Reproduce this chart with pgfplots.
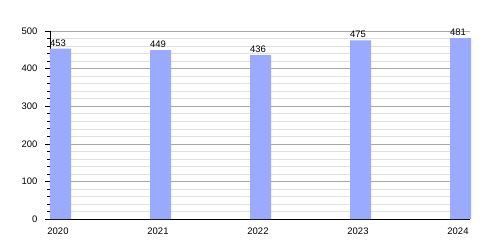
\documentclass[border=0pt]{standalone}
\usepackage{pgfplots}
\pgfplotsset{compat=1.18}
\usepackage{fontspec}
\setmainfont{Liberation Sans}
\definecolor{barblue}{HTML}{99AAFF}
\definecolor{majgrid}{HTML}{A8A8A8}
\definecolor{mingrid}{HTML}{E0E0E0}
\begin{document}
\begin{tikzpicture}
\path (0,0) rectangle (500bp,250bp);
\begin{axis}[
  at={(50bp,31bp)}, anchor=south west,
  scale only axis, width=420bp, height=188bp,
  xmin=0, xmax=4.2, ymin=0, ymax=500,
  axis x line*=bottom, axis y line*=left,
  axis line style={black, line width=0.8pt},
  xtick={0.08,1.08,2.08,3.08,4.08},
  xticklabels={2020,2021,2022,2023,2024},
  x tick style={draw=none},
  ytick={0,100,...,500},
  minor y tick num=4,
  tick align=outside,
  major tick length=5bp, minor tick length=3bp,
  y tick style={black, line width=0.6pt},
  ymajorgrids, yminorgrids,
  major grid style={majgrid, line width=0.6pt},
  minor grid style={mingrid, line width=0.5pt},
  ticklabel style={font=\fontsize{9.5}{11}\selectfont},
  yticklabel style={xshift=-4bp},
  /pgf/number format/assume math mode=true,
  ybar, bar width=21bp, bar shift=10.5bp,
  nodes near coords,
  every node near coord/.append style={font=\fontsize{9.5}{11}\selectfont, xshift=-2.5bp, yshift=-1bp},
  clip=false,
]
\addplot[fill=barblue, draw=none] coordinates {(0,453) (1,449) (2,436) (3,475) (4,481)};
\end{axis}
\end{tikzpicture}
\end{document}
